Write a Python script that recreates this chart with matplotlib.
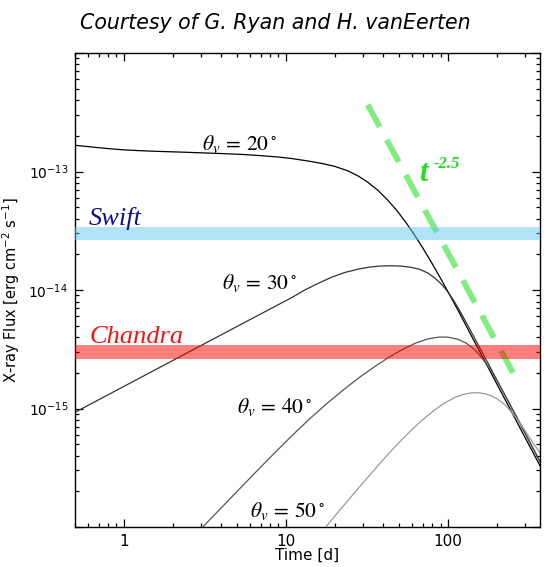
import numpy as np
import matplotlib
matplotlib.use("Agg")
import matplotlib.pyplot as plt

# off-axis light curves (time in days, flux in erg/cm^2/s)
t_20 = [0.5, 0.6, 0.7, 0.85, 1.0, 1.3, 1.7, 2.2, 3, 4, 5.5, 7, 9, 11, 14.1, 17, 20, 24, 28, 32,
        37, 42, 48, 55, 62, 70, 80, 92, 105, 120, 140, 165, 195, 230, 270, 320, 370]
f_20 = [1.665e-13, 1.623e-13, 1.589e-13, 1.550e-13, 1.523e-13, 1.496e-13, 1.476e-13, 1.460e-13,
        1.438e-13, 1.418e-13, 1.391e-13, 1.361e-13, 1.325e-13, 1.284e-13, 1.219e-13, 1.163e-13,
        1.106e-13, 1.016e-13, 9.15e-14, 8.13e-14, 6.93e-14, 5.84e-14, 4.75e-14, 3.72e-14,
        2.93e-14, 2.26e-14, 1.666e-14, 1.191e-14, 8.56e-15, 6.09e-15, 4.07e-15, 2.66e-15,
        1.728e-15, 1.127e-15, 7.43e-16, 4.78e-16, 3.28e-16]

t_30 = [0.5, 1, 2, 4, 8, 11, 13, 15.5, 19, 23, 28, 33, 38, 44, 51, 59, 67, 75, 83, 92, 100,
        110, 120, 140, 165, 195, 230, 270, 320, 370]
f_30 = [9.29e-16, 1.536e-15, 2.537e-15, 4.195e-15, 6.92e-15, 8.71e-15, 9.96e-15, 1.123e-14,
        1.277e-14, 1.404e-14, 1.503e-14, 1.562e-14, 1.593e-14, 1.602e-14, 1.593e-14, 1.556e-14,
        1.494e-14, 1.393e-14, 1.262e-14, 1.106e-14, 9.62e-15, 7.91e-15, 6.46e-15, 4.37e-15,
        2.873e-15, 1.868e-15, 1.219e-15, 8.03e-16, 5.16e-16, 3.54e-16]

t_40 = [3.1, 4, 5, 6.5, 8.5, 11, 14, 18, 23, 29, 36, 44, 53, 63, 75, 88, 100, 115, 130, 145,
        160, 175, 190, 210, 235, 265, 300, 335, 370]
f_40 = [1.014e-16, 1.457e-16, 1.998e-16, 2.895e-16, 4.21e-16, 5.97e-16, 8.17e-16, 1.108e-15,
        1.463e-15, 1.868e-15, 2.298e-15, 2.747e-15, 3.177e-15, 3.562e-15, 3.866e-15, 4.01e-15,
        4.00e-15, 3.842e-15, 3.556e-15, 3.171e-15, 2.731e-15, 2.316e-15, 1.945e-15, 1.542e-15,
        1.163e-15, 8.56e-16, 6.19e-16, 4.65e-16, 3.58e-16]

t_50 = [17.8, 20, 23, 26.5, 30, 34, 39, 45, 52, 60, 70, 82, 95, 110, 125, 140, 155, 170, 185,
        200, 220, 240, 265, 295, 330, 370]
f_50 = [1.019e-16, 1.233e-16, 1.548e-16, 1.945e-16, 2.371e-16, 2.889e-16, 3.58e-16, 4.44e-16,
        5.48e-16, 6.65e-16, 8.06e-16, 9.64e-16, 1.110e-15, 1.238e-15, 1.317e-15, 1.356e-15,
        1.359e-15, 1.330e-15, 1.282e-15, 1.214e-15, 1.102e-15, 9.77e-16, 8.23e-16, 6.69e-16,
        5.29e-16, 4.22e-16]

angles = ["20", "30", "40", "50"]

# detector sensitivity bands (flux range)
swift_band = [2.64e-14, 3.4e-14]
chandra_band = [2.64e-15, 3.44e-15]

# t^-2.5 guide line end points
t_slope = [32, 260]
f_slope = [3.66e-13, 1.85e-15]

plt.rcParams["font.family"] = ["DejaVu Sans"]

fig = plt.figure(figsize=(5.5, 5.67), dpi=100)
ax = fig.add_axes([0.1364, 0.0705, 0.8455, 0.836])

curves = [(t_20, f_20, "black"), (t_30, f_30, "#333333"),
          (t_40, f_40, "#555555"), (t_50, f_50, "#999999")]
for t, f, c in curves:
    ax.plot(t, f, color=c, lw=0.9, zorder=2)

ax.plot(t_slope, f_slope, color="#00dd00", alpha=0.5, lw=4.2,
        dashes=(4.3, 2.55), dash_capstyle="butt", zorder=2.5)

ax.axhspan(swift_band[0], swift_band[1], color="#66c8f5", alpha=0.5, lw=0, zorder=3)
ax.axhspan(chandra_band[0], chandra_band[1], color="#ff0000", alpha=0.5, lw=0, zorder=3)

ax.set_xscale("log")
ax.set_yscale("log")
ax.set_xlim(0.5, 370)
ax.set_ylim(1e-16, 1e-12)

ax.set_xticks([1, 10, 100], labels=["1", "10", "100"])
ax.set_yticks([1e-16, 1e-15, 1e-14, 1e-13, 1e-12],
              labels=["", r"$\mathdefault{10^{-15}}$", r"$\mathdefault{10^{-14}}$",
                      r"$\mathdefault{10^{-13}}$", ""])
ax.tick_params(which="both", direction="in", top=True, right=True, width=0.9)
ax.tick_params(which="major", length=6, pad=5)
ax.tick_params(which="minor", length=3)
ax.tick_params(axis="x", labelsize=11)
ax.tick_params(axis="y", labelsize=10)
ax.tick_params(axis="y", which="minor", labelleft=False)
ax.tick_params(axis="x", which="minor", labelbottom=False)
for s in ax.spines.values():
    s.set_linewidth(1.0)

ax.set_xlabel("Time [d]", fontsize=11, va="top")
ax.xaxis.set_label_coords(0.5, -0.044)
ax.set_ylabel(r"X-ray Flux [erg cm$^{\mathdefault{-2}}$ s$^{\mathdefault{-1}}$]", fontsize=10.5)
ax.yaxis.set_label_coords(-0.113, 0.5)

# angle labels
label_pos = [(0.273, 0.809), (0.315, 0.515), (0.348, 0.253), (0.376, 0.034)]
for a, (x, y) in zip(angles, label_pos):
    ax.text(x, y, r"$\theta_v\, =\, %s^\circ$" % a, transform=ax.transAxes,
            fontsize=15.5, math_fontfamily="stix", ha="left", va="center", zorder=4)

ax.text(0.029, 0.637, "Swift", transform=ax.transAxes, fontsize=19,
        family="Liberation Serif", style="italic", color="#10108a", va="baseline")
ax.text(0.032, 0.3876, "Chandra", transform=ax.transAxes, fontsize=19,
        family="Liberation Serif", style="italic", color="#ff1010", va="baseline")

ax.text(0.740, 0.730, "t", transform=ax.transAxes, fontsize=22, family="Liberation Serif",
        style="italic", weight="bold", color="#22dd22", va="baseline")
ax.text(0.772, 0.757, "-2.5", transform=ax.transAxes, fontsize=12, family="Liberation Serif",
        style="italic", weight="bold", color="#22dd22", va="baseline")

fig.text(0.5, 0.949, "Courtesy of G. Ryan and H. vanEerten", ha="center", va="baseline",
         fontsize=14.8, style="italic")

fig.savefig("out.png", dpi=100)
